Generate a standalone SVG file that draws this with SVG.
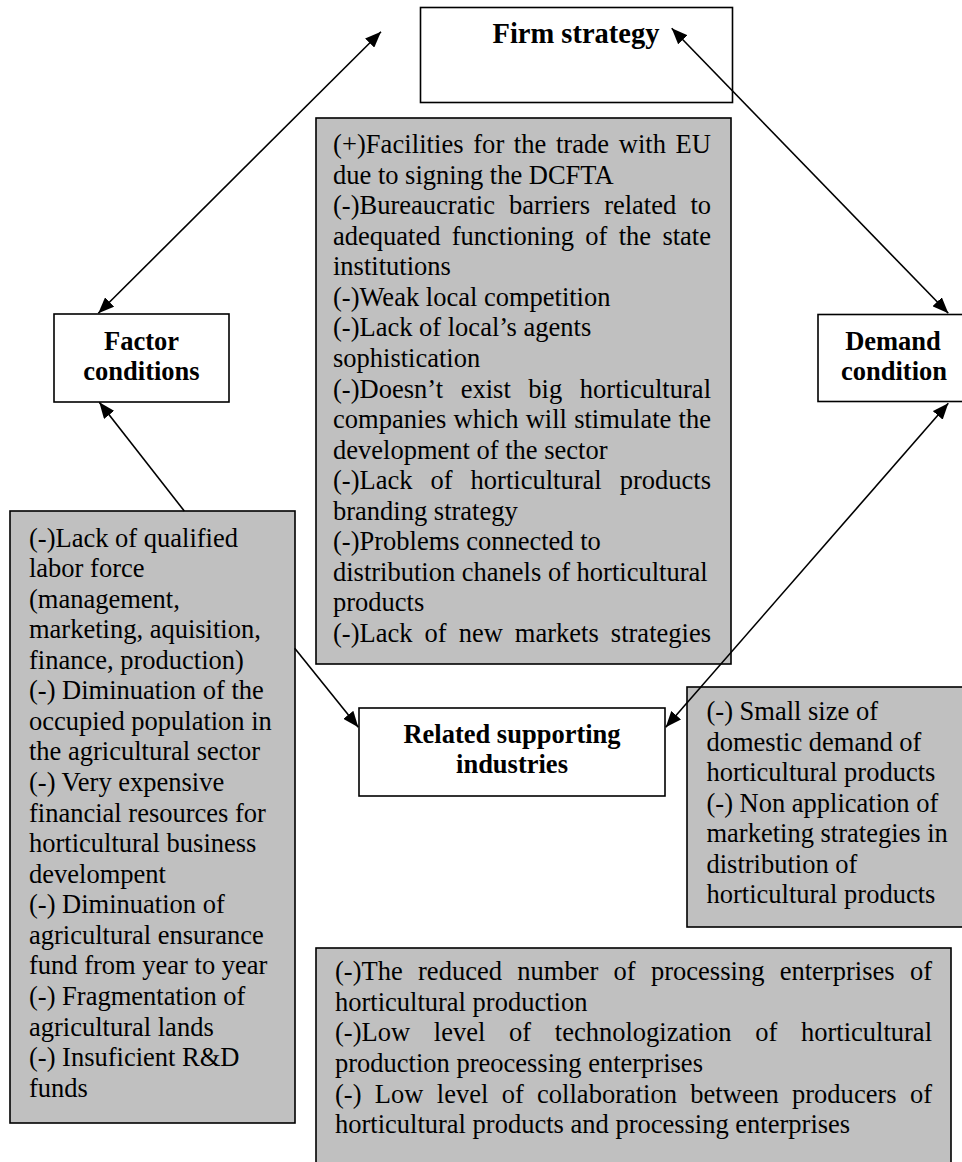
<svg xmlns="http://www.w3.org/2000/svg" width="962" height="1162" viewBox="0 0 962 1162">
<style>
.box{fill:#ffffff;stroke:#000;stroke-width:1.6}
.gbox{fill:#c0c0c0;stroke:#000;stroke-width:1.6}
.lbl{font-family:"Liberation Serif","Times New Roman",serif;font-weight:bold;font-size:26.5px;fill:#000;text-anchor:middle}
.t{font-family:"Liberation Serif","Times New Roman",serif;font-size:26.5px;fill:#000}
.con{fill:none;stroke:#000;stroke-width:1.6}
</style>
<defs>
<marker id="ah" viewBox="0 0 16 13" refX="16" refY="6.5" markerWidth="16" markerHeight="13" markerUnits="userSpaceOnUse" orient="auto-start-reverse">
<path d="M0,0 L16,6.5 L0,13 z" fill="#000"/>
</marker>
</defs>
<rect width="962" height="1162" fill="#fff"/>

<g id="firm-strategy">
<rect class="box" x="420.5" y="7.5" width="312" height="95"/>
<text class="lbl" x="576" y="43" style="font-size:28.5px">Firm strategy</text>
</g>

<g id="factor-conditions">
<rect class="box" x="54" y="314" width="175" height="88"/>
<text class="lbl" x="141.5" y="350">Factor</text>
<text class="lbl" x="141.5" y="380">conditions</text>
</g>

<g id="demand-condition">
<rect class="box" x="818" y="314.5" width="150" height="87"/>
<text class="lbl" x="893" y="350">Demand</text>
<text class="lbl" x="894" y="379.5">condition</text>
</g>

<g id="related-supporting-industries">
<rect class="box" x="359" y="708" width="306" height="88"/>
<text class="lbl" x="512" y="743">Related supporting</text>
<text class="lbl" x="512" y="773">industries</text>
</g>

<g id="firm-strategy-factors">
<rect class="gbox" x="316" y="118" width="415" height="546"/>
<text class="t" x="333" y="153" style="word-spacing:2.8px" textLength="378" lengthAdjust="spacing">(+)Facilities for the trade with EU</text>
<text class="t" x="333" y="183.6">due to signing the DCFTA</text>
<text class="t" x="333" y="214.1" style="word-spacing:7.5px" textLength="378" lengthAdjust="spacing">(-)Bureaucratic barriers related to</text>
<text class="t" x="333" y="244.7" style="word-spacing:4.7px" textLength="378" lengthAdjust="spacing">adequated functioning of the state</text>
<text class="t" x="333" y="275.2">institutions</text>
<text class="t" x="333" y="305.8">(-)Weak local competition</text>
<text class="t" x="333" y="336.4">(-)Lack of local’s agents</text>
<text class="t" x="333" y="366.9">sophistication</text>
<text class="t" x="333" y="397.5" style="word-spacing:10.9px" textLength="378" lengthAdjust="spacing">(-)Doesn’t exist big horticultural</text>
<text class="t" x="333" y="428" style="word-spacing:0.6px" textLength="378" lengthAdjust="spacing">companies which will stimulate the</text>
<text class="t" x="333" y="458.6">development of the sector</text>
<text class="t" x="333" y="489.2" style="word-spacing:11.4px" textLength="378" lengthAdjust="spacing">(-)Lack of horticultural products</text>
<text class="t" x="333" y="519.7">branding strategy</text>
<text class="t" x="333" y="550.3">(-)Problems connected to</text>
<text class="t" x="333" y="580.8">distribution chanels of horticultural</text>
<text class="t" x="333" y="611.4">products</text>
<text class="t" x="333" y="642" style="word-spacing:5.4px" textLength="378" lengthAdjust="spacing">(-)Lack of new markets strategies</text>
</g>

<g id="factor-conditions-list">
<rect class="gbox" x="10" y="511" width="285" height="612"/>
<text class="t" x="29" y="546.5">(-)Lack of qualified</text>
<text class="t" x="29" y="577.1">labor force</text>
<text class="t" x="29" y="607.6">(management,</text>
<text class="t" x="29" y="638.2">marketing, aquisition,</text>
<text class="t" x="29" y="668.7">finance, production)</text>
<text class="t" x="29" y="699.3">(-) Diminuation of the</text>
<text class="t" x="29" y="729.9">occupied population in</text>
<text class="t" x="29" y="760.4">the agricultural sector</text>
<text class="t" x="29" y="791">(-) Very expensive</text>
<text class="t" x="29" y="821.5">financial resources for</text>
<text class="t" x="29" y="852.1">horticultural business</text>
<text class="t" x="29" y="882.7">develompent</text>
<text class="t" x="29" y="913.2">(-) Diminuation of</text>
<text class="t" x="29" y="943.8">agricultural ensurance</text>
<text class="t" x="29" y="974.3">fund from year to year</text>
<text class="t" x="29" y="1004.9">(-) Fragmentation of</text>
<text class="t" x="29" y="1035.5">agricultural lands</text>
<text class="t" x="29" y="1066">(-) Insuficient R&amp;D</text>
<text class="t" x="29" y="1096.6">funds</text>
</g>

<g id="demand-condition-list">
<rect class="gbox" x="687" y="687" width="280" height="240"/>
<text class="t" x="706.5" y="720">(-) Small size of</text>
<text class="t" x="706.5" y="750.5">domestic demand of</text>
<text class="t" x="706.5" y="781">horticultural products</text>
<text class="t" x="706.5" y="811.5">(-) Non application of</text>
<text class="t" x="706.5" y="842">marketing strategies in</text>
<text class="t" x="706.5" y="872.5">distribution of</text>
<text class="t" x="706.5" y="903">horticultural products</text>
</g>

<g id="related-industries-list">
<rect class="gbox" x="316" y="948" width="635" height="230"/>
<text class="t" x="335" y="980" style="word-spacing:8.7px" textLength="597" lengthAdjust="spacing">(-)The reduced number of processing enterprises of</text>
<text class="t" x="335" y="1010.5">horticultural production</text>
<text class="t" x="335" y="1041" style="word-spacing:17.1px" textLength="597" lengthAdjust="spacing">(-)Low level of technologization of horticultural</text>
<text class="t" x="335" y="1071.5">production preocessing enterprises</text>
<text class="t" x="335" y="1102.5" style="word-spacing:6.7px" textLength="597" lengthAdjust="spacing">(-) Low level of collaboration between producers of</text>
<text class="t" x="335" y="1133">horticultural products and processing enterprises</text>
</g>

<g id="connectors">
<path class="con" d="M98.3,313.3 L381,31.7" marker-start="url(#ah)" marker-end="url(#ah)"/>
<path class="con" d="M671.7,28.3 L948.3,313.3" marker-start="url(#ah)" marker-end="url(#ah)"/>
<path class="con" d="M184.3,511 L99.3,402.3" marker-end="url(#ah)"/>
<path class="con" d="M294.7,648.3 L358.3,727.3" marker-end="url(#ah)"/>
<path class="con" d="M948.3,403.3 L665.7,727.3" marker-start="url(#ah)" marker-end="url(#ah)"/>
</g>
</svg>
